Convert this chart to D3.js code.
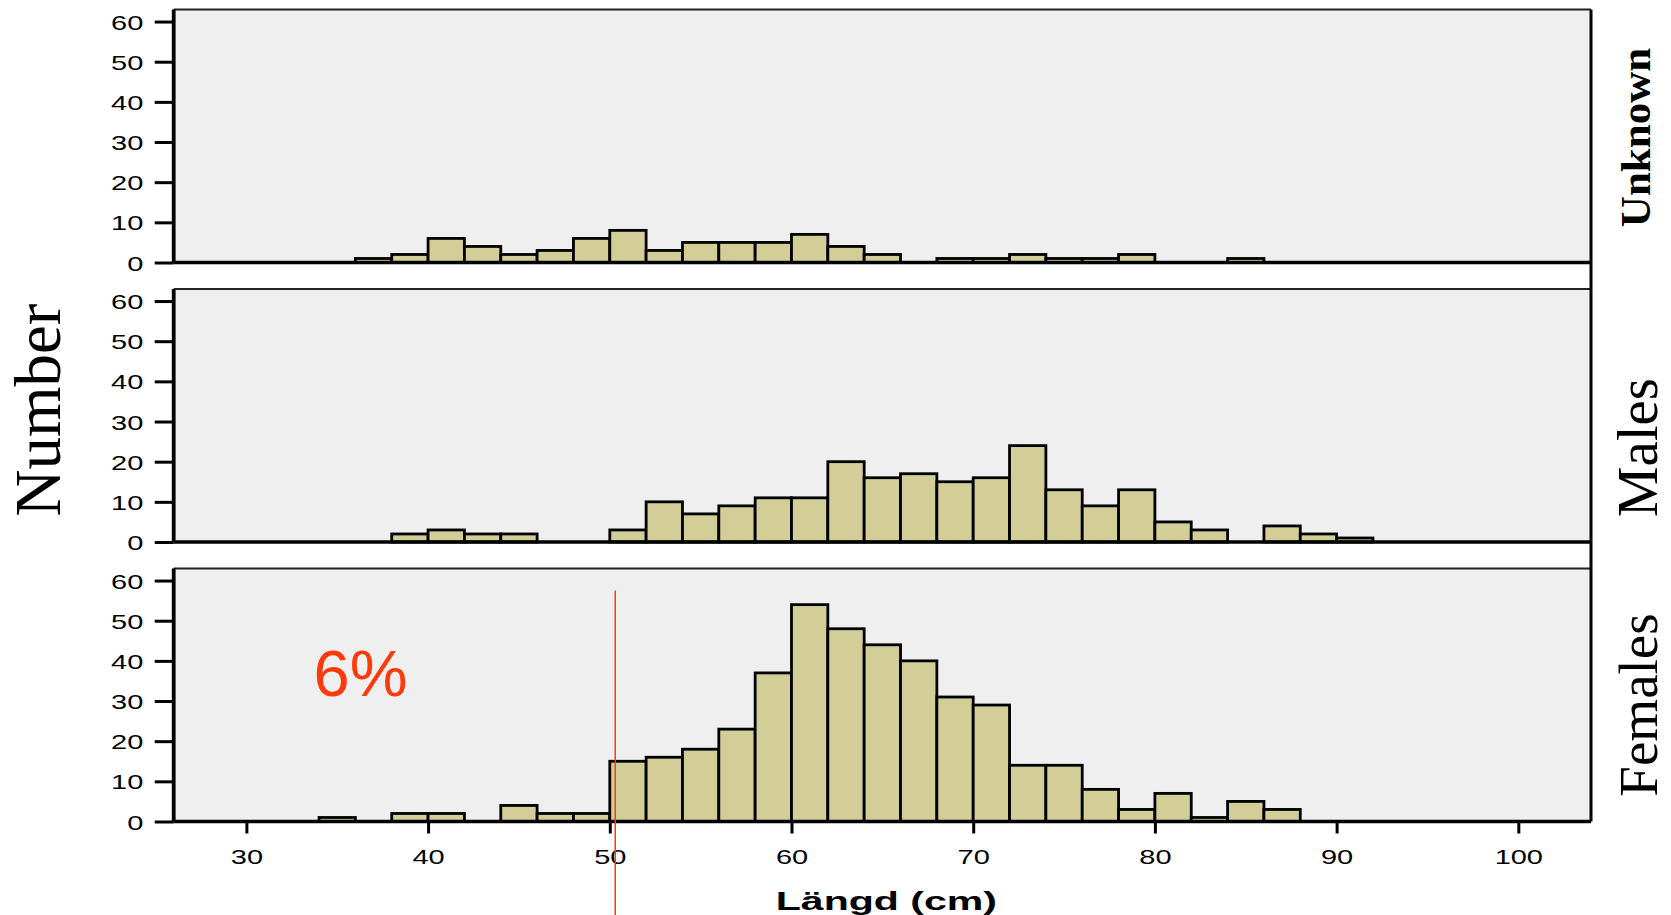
<!DOCTYPE html>
<html>
<head>
<meta charset="utf-8">
<script src="https://cdn.jsdelivr.net/npm/d3@7"></script>
<style>
    body { margin: 0; background: #fff; }
    svg { display: block; }
</style>
</head>
<body>
<svg id="chart" width="1671" height="915"></svg>
<script>
// length classes (cm), lower edge of each 2 cm bin
const lengthBins = [34, 36, 38, 40, 42, 44, 46, 48, 50, 52, 54, 56, 58, 60, 62,
                    64, 66, 68, 70, 72, 74, 76, 78, 80, 82, 84, 86, 88, 90];
const unknownCounts = [0, 1, 2, 6, 4, 2, 3, 6, 8, 3, 5, 5, 5, 7, 4,
                       2, 0, 1, 1, 2, 1, 1, 2, 0, 0, 1, 0, 0, 0];
const maleCounts    = [0, 0, 2, 3, 2, 2, 0, 0, 3, 10, 7, 9, 11, 11, 20,
                       16, 17, 15, 16, 24, 13, 9, 13, 5, 3, 0, 4, 2, 1];
const femaleCounts  = [1, 0, 2, 2, 0, 4, 2, 2, 15, 16, 18, 23, 37, 54, 48,
                       44, 40, 31, 29, 14, 14, 8, 3, 7, 1, 5, 3, 0, 0];
const panelNames = ['Unknown', 'Males', 'Females'];
const xTicks = [30, 40, 50, 60, 70, 80, 90, 100];
const yTicks = [0, 10, 20, 30, 40, 50, 60];
const cutoffLength = 50.3;   // red marker line
const cutoffText = '6%';

const binWidth = 2;
const svg = d3.select('#chart');
const width = 1671, height = 915;

// x scale shared by all three panels
const x = d3.scaleLinear().domain([26, 104]).range([173.7, 1591]);

const panelHeight = 253, panelStep = 279.5, firstBottom = 262.5;
const panels = [
    {name: panelNames[0], counts: unknownCounts, font: 'bold 43px "Liberation Serif"', labelX: 1650, labelY: 137.5},
    {name: panelNames[1], counts: maleCounts, font: '57px "Liberation Serif"', labelX: 1657, labelY: 447.6},
    {name: panelNames[2], counts: femaleCounts, font: '55px "Liberation Serif"', labelX: 1657, labelY: 705}
];

const yScales = [];

panels.forEach((p, i) => {
    const bottom = firstBottom + i * panelStep;
    const y = d3.scaleLinear().domain([0, 63]).range([bottom, bottom - panelHeight]);
    yScales.push(y);
    const g = svg.append('g').attr('class', 'panel');

    // plot background
    g.append('rect')
        .attr('x', x.range()[0]).attr('y', y.range()[1])
        .attr('width', x.range()[1] - x.range()[0])
        .attr('height', panelHeight)
        .attr('fill', '#efefef');

    // top border
    g.append('line')
        .attr('x1', x.range()[0]).attr('x2', x.range()[1])
        .attr('y1', y.range()[1]).attr('y2', y.range()[1])
        .attr('stroke', '#222').attr('stroke-width', 2.2);

    // bars
    const data = lengthBins.map((b, k) => ({start: b, count: p.counts[k]})).filter(d => d.count > 0);
    g.selectAll('.bar')
        .data(data)
        .enter().append('rect')
        .attr('class', 'bar')
        .attr('x', d => x(d.start))
        .attr('y', d => y(d.count))
        .attr('width', d => x(d.start + binWidth) - x(d.start))
        .attr('height', d => y(0) - y(d.count))
        .attr('fill', '#d3ce98')
        .attr('stroke', '#000')
        .attr('stroke-width', 2.8);

    // bottom line of each panel
    g.append('line')
        .attr('x1', x.range()[0]).attr('x2', x.range()[1])
        .attr('y1', y(0)).attr('y2', y(0))
        .attr('stroke', '#000').attr('stroke-width', 3.5);

    // y axis
    const yAxis = g.append('g')
        .attr('transform', `translate(${x.range()[0]},0)`)
        .call(d3.axisLeft(y).tickValues(yTicks).tickSize(19).tickSizeOuter(0));
    yAxis.select('.domain')
        .attr('d', `M0,${y.range()[1]}V${y(0)}`)
        .attr('stroke', '#000').attr('stroke-width', 3.8);
    yAxis.selectAll('.tick line').attr('stroke', '#000').attr('stroke-width', 3);
    yAxis.selectAll('.tick text')
        .attr('x', 0).attr('y', 0).attr('dy', null)
        .attr('transform', 'translate(-30.4,7.5) scale(1.38,1)')
        .attr('text-anchor', 'end')
        .attr('fill', '#000')
        .style('font', '21px "Liberation Sans", Arial, sans-serif');

    // panel label on the right
    svg.append('text')
        .attr('transform', `translate(${p.labelX},${p.labelY}) rotate(-90)`)
        .attr('text-anchor', 'middle')
        .style('font', p.font)
        .attr('fill', '#000')
        .text(p.name);
});

// right border running through all panels
svg.append('line')
    .attr('x1', x.range()[1]).attr('x2', x.range()[1])
    .attr('y1', yScales[0].range()[1]).attr('y2', yScales[2](0))
    .attr('stroke', '#000').attr('stroke-width', 3);

// x axis under the bottom panel
const yLast = yScales[2];
const xAxis = svg.append('g')
    .attr('transform', `translate(0,${yLast(0)})`)
    .call(d3.axisBottom(x).tickValues(xTicks).tickSize(12).tickSizeOuter(0));
xAxis.select('.domain').remove();
xAxis.selectAll('.tick line').attr('stroke', '#000').attr('stroke-width', 3);
xAxis.selectAll('.tick text')
    .attr('x', 0).attr('y', 0).attr('dy', null)
    .attr('transform', 'translate(0,42) scale(1.38,1)')
    .attr('fill', '#000')
    .style('font', '21px "Liberation Sans", Arial, sans-serif');

// x title
svg.append('text')
    .attr('transform', `translate(${(x.range()[0] + x.range()[1]) / 2 + 4},910) scale(1.58,1)`)
    .attr('text-anchor', 'middle')
    .style('font', 'bold 26px "Liberation Sans", Arial, sans-serif')
    .attr('fill', '#000')
    .text('Längd (cm)');

// y title
svg.append('text')
    .attr('transform', 'translate(60,410) rotate(-90)')
    .attr('text-anchor', 'middle')
    .style('font', '65px "Liberation Serif", serif')
    .attr('fill', '#000')
    .text('Number');

// red cutoff line and percentage
svg.append('line')
    .attr('x1', x(cutoffLength)).attr('x2', x(cutoffLength))
    .attr('y1', yLast(57.5)).attr('y2', height)
    .attr('stroke', '#ff3a0a').attr('stroke-width', 1.5);

svg.append('text')
    .attr('x', x(33.7)).attr('y', yLast(31.2))
    .style('font', '65px "Liberation Sans", Arial, sans-serif')
    .attr('fill', '#ff3a0a')
    .text(cutoffText);
</script>
</body>
</html>
